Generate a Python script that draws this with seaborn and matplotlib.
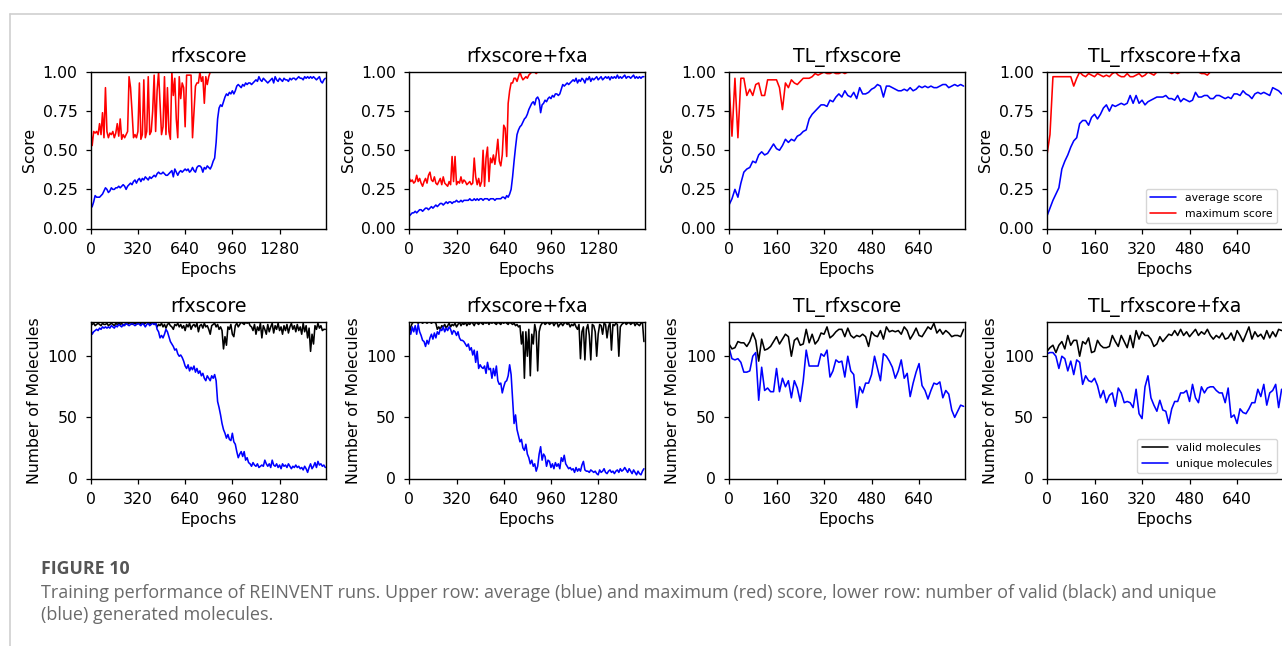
import numpy as np
import matplotlib
matplotlib.use("Agg")
import matplotlib.pyplot as plt
from matplotlib.lines import Line2D
import seaborn as sns

# run names (column titles)
runs = ["rfxscore", "rfxscore+fxa", "TL_rfxscore", "TL_rfxscore+fxa"]

# epochs sampled every 10 steps
epochs_long = np.arange(0, 1600, 10)
epochs_short = np.arange(0, 800, 10)

# ---- upper row: average / maximum score ----
rfx_avg = [0.13, 0.14, 0.17, 0.21, 0.20, 0.20, 0.20, 0.21, 0.22, 0.24,
           0.26, 0.25, 0.23, 0.24, 0.26, 0.25, 0.25, 0.26, 0.26, 0.27,
           0.26, 0.27, 0.28, 0.27, 0.25, 0.27, 0.28, 0.29, 0.28, 0.30,
           0.31, 0.29, 0.31, 0.32, 0.30, 0.32, 0.31, 0.33, 0.32, 0.31,
           0.33, 0.32, 0.33, 0.34, 0.33, 0.35, 0.36, 0.35, 0.35, 0.36,
           0.35, 0.34, 0.34, 0.35, 0.36, 0.37, 0.33, 0.38, 0.36, 0.34,
           0.36, 0.37, 0.36, 0.37, 0.38, 0.37, 0.38, 0.36, 0.37, 0.39,
           0.37, 0.36, 0.39, 0.40, 0.40, 0.39, 0.36, 0.39, 0.38, 0.40,
           0.39, 0.38, 0.40, 0.43, 0.45, 0.55, 0.70, 0.77, 0.79, 0.78,
           0.81, 0.84, 0.86, 0.85, 0.87, 0.86, 0.88, 0.86, 0.88, 0.91,
           0.92, 0.91, 0.90, 0.92, 0.91, 0.93, 0.92, 0.93, 0.93, 0.92,
           0.93, 0.94, 0.95, 0.94, 0.97, 0.95, 0.94, 0.96, 0.95, 0.94,
           0.93, 0.94, 0.95, 0.96, 0.93, 0.97, 0.95, 0.94, 0.96, 0.95,
           0.94, 0.96, 0.95, 0.95, 0.94, 0.96, 0.95, 0.96, 0.96, 0.95,
           0.96, 0.97, 0.96, 0.96, 0.95, 0.97, 0.96, 0.97, 0.96, 0.97,
           0.96, 0.97, 0.96, 0.95, 0.96, 0.97, 0.94, 0.93, 0.95, 0.96]
rfx_max = [0.63, 0.53, 0.62, 0.61, 0.62, 0.60, 0.67, 0.60, 0.74, 0.58,
           0.90, 0.62, 0.58, 0.61, 0.60, 0.62, 0.58, 0.61, 0.67, 0.59,
           0.70, 0.57, 0.60, 0.58, 0.60, 0.62, 0.97, 0.90, 0.75, 0.58,
           0.60, 0.58, 0.62, 0.93, 0.57, 0.60, 0.95, 0.58, 0.62, 0.97,
           0.60, 0.62, 0.75, 0.98, 0.62, 0.88, 1.00, 0.80, 0.60, 0.65,
           0.97, 0.60, 0.90, 0.62, 0.57, 1.00, 0.85, 0.96, 0.70, 0.58,
           0.97, 0.83, 0.93, 0.90, 0.65, 0.98, 0.98, 0.98, 0.98, 0.58,
           0.75, 0.91, 0.93, 0.93, 1.00, 0.94, 0.97, 0.80, 0.97, 0.92,
           0.97, 1.00, 1.00, 1.00, 1.00, 1.00, 1.00, 1.00, 1.00, 1.00,
           1.00, 1.00, 1.00, 1.00, 1.00, 1.00, 1.00, 1.00, 1.00, 1.00,
           1.00, 1.00, 1.00, 1.00, 1.00, 1.00, 1.00, 1.00, 1.00, 1.00,
           1.00, 1.00, 1.00, 1.00, 1.00, 1.00, 1.00, 1.00, 1.00, 1.00,
           1.00, 1.00, 1.00, 1.00, 1.00, 1.00, 1.00, 1.00, 1.00, 1.00,
           1.00, 1.00, 1.00, 1.00, 1.00, 1.00, 1.00, 1.00, 1.00, 1.00,
           1.00, 1.00, 1.00, 1.00, 1.00, 1.00, 1.00, 1.00, 1.00, 1.00,
           1.00, 1.00, 1.00, 1.00, 1.00, 1.00, 1.00, 1.00, 1.00, 1.00]

fxa_avg = [0.08, 0.09, 0.10, 0.10, 0.11, 0.10, 0.11, 0.12, 0.12, 0.11,
           0.12, 0.13, 0.13, 0.12, 0.13, 0.14, 0.13, 0.14, 0.15, 0.14,
           0.15, 0.16, 0.16, 0.15, 0.16, 0.17, 0.16, 0.17, 0.17, 0.16,
           0.17, 0.17, 0.18, 0.17, 0.17, 0.18, 0.17, 0.18, 0.18, 0.18,
           0.18, 0.19, 0.18, 0.18, 0.19, 0.18, 0.19, 0.18, 0.19, 0.19,
           0.18, 0.19, 0.19, 0.19, 0.18, 0.19, 0.19, 0.19, 0.18, 0.19,
           0.19, 0.19, 0.19, 0.20, 0.20, 0.19, 0.21, 0.20, 0.22, 0.25,
           0.33, 0.43, 0.52, 0.60, 0.63, 0.65, 0.66, 0.68, 0.70, 0.71,
           0.73, 0.76, 0.78, 0.80, 0.81, 0.79, 0.83, 0.84, 0.82, 0.74,
           0.79, 0.80, 0.82, 0.81, 0.83, 0.84, 0.83, 0.85, 0.84, 0.86,
           0.86, 0.85, 0.86, 0.89, 0.92, 0.91, 0.92, 0.93, 0.92, 0.93,
           0.94, 0.95, 0.94, 0.96, 0.93, 0.95, 0.94, 0.96, 0.95, 0.93,
           0.96, 0.95, 0.97, 0.94, 0.96, 0.95, 0.96, 0.97, 0.95, 0.96,
           0.97, 0.95, 0.96, 0.97, 0.96, 0.97, 0.95, 0.97, 0.96, 0.97,
           0.96, 0.98, 0.96, 0.97, 0.96, 0.97, 0.98, 0.96, 0.97, 0.97,
           0.96, 0.97, 0.98, 0.96, 0.97, 0.96, 0.97, 0.96, 0.97, 0.97]
fxa_max = [0.32, 0.30, 0.31, 0.29, 0.30, 0.34, 0.30, 0.32, 0.29, 0.27,
           0.30, 0.32, 0.29, 0.34, 0.36, 0.31, 0.30, 0.33, 0.29, 0.28,
           0.30, 0.32, 0.28, 0.33, 0.29, 0.28, 0.27, 0.30, 0.28, 0.46,
           0.30, 0.46, 0.28, 0.30, 0.29, 0.33, 0.29, 0.31, 0.30, 0.28,
           0.29, 0.30, 0.28, 0.29, 0.45, 0.33, 0.28, 0.32, 0.27, 0.30,
           0.50, 0.27, 0.45, 0.52, 0.30, 0.45, 0.42, 0.47, 0.41, 0.48,
           0.57, 0.43, 0.40, 0.47, 0.66, 0.64, 0.46, 0.80, 0.88, 0.93,
           0.93, 0.96, 0.96, 0.94, 0.97, 1.00, 0.97, 0.95, 0.96, 0.97,
           0.96, 0.98, 0.99, 1.00, 1.00, 1.00, 0.99, 1.00, 1.00, 1.00,
           1.00, 1.00, 1.00, 1.00, 1.00, 1.00, 1.00, 1.00, 1.00, 1.00,
           1.00, 1.00, 1.00, 1.00, 1.00, 1.00, 1.00, 1.00, 1.00, 1.00,
           1.00, 1.00, 1.00, 1.00, 1.00, 1.00, 1.00, 1.00, 1.00, 1.00,
           1.00, 1.00, 1.00, 1.00, 1.00, 1.00, 1.00, 1.00, 1.00, 1.00,
           1.00, 1.00, 1.00, 1.00, 1.00, 1.00, 1.00, 1.00, 1.00, 1.00,
           1.00, 1.00, 1.00, 1.00, 1.00, 1.00, 1.00, 1.00, 1.00, 1.00,
           1.00, 1.00, 1.00, 1.00, 1.00, 1.00, 1.00, 1.00, 1.00, 1.00]

tl_avg = [0.15, 0.19, 0.25, 0.20, 0.29, 0.36, 0.38, 0.39, 0.43, 0.42,
          0.47, 0.49, 0.47, 0.48, 0.51, 0.54, 0.51, 0.50, 0.53, 0.57,
          0.55, 0.57, 0.56, 0.59, 0.60, 0.62, 0.63, 0.70, 0.73, 0.75,
          0.77, 0.79, 0.79, 0.78, 0.82, 0.81, 0.84, 0.86, 0.84, 0.88,
          0.85, 0.84, 0.87, 0.83, 0.90, 0.86, 0.86, 0.87, 0.89, 0.90,
          0.92, 0.91, 0.84, 0.91, 0.91, 0.90, 0.89, 0.88, 0.88, 0.89,
          0.88, 0.90, 0.88, 0.89, 0.91, 0.90, 0.91, 0.90, 0.91, 0.90,
          0.90, 0.91, 0.92, 0.92, 0.90, 0.91, 0.92, 0.91, 0.92, 0.91]
tl_max = [0.93, 0.59, 0.96, 0.58, 0.96, 0.96, 0.85, 0.89, 0.85, 0.92,
          0.93, 0.85, 0.85, 0.95, 0.95, 0.95, 0.95, 0.90, 0.76, 0.93,
          0.90, 0.95, 0.93, 0.92, 0.94, 0.96, 0.96, 0.96, 0.97, 0.99,
          0.98, 0.99, 1.00, 0.99, 0.99, 1.00, 0.99, 0.99, 1.00, 0.99,
          1.00, 1.00, 1.00, 1.00, 1.00, 1.00, 1.00, 1.00, 1.00, 1.00,
          1.00, 1.00, 1.00, 1.00, 1.00, 1.00, 1.00, 1.00, 1.00, 1.00,
          1.00, 1.00, 1.00, 1.00, 1.00, 1.00, 1.00, 1.00, 1.00, 1.00,
          1.00, 1.00, 1.00, 1.00, 1.00, 1.00, 1.00, 1.00, 1.00, 1.00]

tlfxa_avg = [0.08, 0.13, 0.18, 0.22, 0.26, 0.38, 0.43, 0.47, 0.52, 0.56,
             0.58, 0.67, 0.69, 0.69, 0.66, 0.71, 0.73, 0.70, 0.73, 0.77,
             0.79, 0.75, 0.79, 0.78, 0.79, 0.80, 0.79, 0.80, 0.85, 0.80,
             0.85, 0.80, 0.82, 0.79, 0.81, 0.82, 0.83, 0.84, 0.84, 0.84,
             0.85, 0.83, 0.83, 0.82, 0.85, 0.81, 0.83, 0.82, 0.81, 0.82,
             0.87, 0.84, 0.84, 0.85, 0.85, 0.83, 0.83, 0.85, 0.85, 0.84,
             0.83, 0.84, 0.83, 0.86, 0.86, 0.85, 0.88, 0.86, 0.85, 0.83,
             0.86, 0.87, 0.86, 0.87, 0.86, 0.85, 0.90, 0.89, 0.88, 0.86]
tlfxa_max = [0.47, 0.60, 0.97, 0.97, 0.97, 0.97, 0.97, 0.97, 0.97, 0.91,
             0.96, 1.00, 0.98, 0.97, 0.99, 0.98, 0.97, 0.99, 0.98, 0.97,
             0.98, 0.97, 0.99, 1.00, 0.98, 0.97, 0.97, 0.99, 0.97, 0.97,
             0.98, 0.99, 0.97, 0.98, 1.00, 0.99, 0.98, 1.00, 1.00, 1.00,
             1.00, 1.00, 0.99, 1.00, 0.99, 1.00, 1.00, 1.00, 1.00, 1.00,
             1.00, 1.00, 0.99, 0.99, 0.98, 1.00, 1.00, 1.00, 1.00, 1.00,
             1.00, 1.00, 1.00, 1.00, 1.00, 1.00, 1.00, 1.00, 1.00, 1.00,
             1.00, 1.00, 1.00, 1.00, 1.00, 1.00, 1.00, 1.00, 1.00, 1.00]

# ---- lower row: valid / unique molecules (batch of 128) ----
rfx_valid = [125, 126, 127, 125, 126, 127, 126, 125, 127, 126,
             126, 127, 125, 126, 127, 126, 125, 127, 126, 127,
             126, 127, 125, 126, 127, 126, 127, 128, 126, 127,
             127, 126, 127, 128, 126, 127, 126, 127, 128, 127,
             126, 127, 128, 126, 127, 124, 126, 125, 127, 124,
             126, 123, 126, 127, 125, 124, 122, 126, 125, 127,
             124, 126, 123, 125, 121, 126, 124, 127, 122, 125,
             126, 124, 127, 120, 125, 126, 123, 127, 124, 125,
             122, 118, 125, 126, 127, 124, 126, 122, 124, 121,
             106, 116, 109, 124, 122, 126, 118, 116, 125, 127,
             124, 126, 128, 127, 126, 128, 127, 128, 125, 124,
             121, 126, 118, 124, 121, 127, 115, 125, 122, 118,
             126, 120, 124, 127, 119, 125, 122, 127, 121, 124,
             118, 125, 121, 126, 119, 124, 127, 122, 125, 120,
             126, 121, 124, 118, 127, 120, 125, 115, 123, 104,
             118, 110, 125, 122, 127, 123, 125, 121, 122, 122]
rfx_unique = [122, 118, 120, 121, 122, 121, 123, 122, 124, 123,
              124, 123, 124, 123, 125, 124, 123, 125, 124, 126,
              125, 124, 126, 125, 127, 126, 125, 126, 127, 126,
              125, 126, 127, 126, 125, 127, 126, 124, 126, 127,
              125, 126, 127, 126, 128, 122, 120, 115, 117, 115,
              118, 122, 120, 116, 112, 110, 108, 105, 106, 102,
              100, 101, 99, 96, 92, 90, 93, 88, 91, 89,
              92, 87, 90, 86, 88, 84, 86, 82, 80, 84,
              82, 80, 84, 82, 85, 80, 63, 58, 52, 45,
              40, 37, 33, 36, 32, 31, 37, 30, 28, 22,
              17, 20, 22, 18, 22, 15, 17, 13, 12, 10,
              13, 11, 10, 12, 9, 10, 11, 10, 15, 12,
              10, 12, 9, 15, 11, 10, 12, 9, 11, 8,
              12, 10, 11, 9, 12, 10, 8, 10, 9, 11,
              9, 10, 8, 9, 7, 10, 8, 5, 9, 12,
              8, 10, 13, 9, 14, 11, 12, 10, 11, 9]

fxa_valid = [118, 124, 127, 128, 128, 128, 127, 128, 128, 127,
             128, 128, 127, 128, 128, 127, 128, 128, 127, 122,
             124, 122, 125, 124, 126, 123, 125, 127, 124, 126,
             125, 127, 124, 126, 128, 125, 127, 126, 128, 125,
             127, 126, 128, 127, 125, 128, 127, 126, 128, 127,
             126, 128, 127, 128, 126, 128, 127, 128, 127, 126,
             128, 127, 126, 128, 127, 128, 127, 126, 128, 127,
             126, 127, 125, 126, 124, 125, 110, 120, 82, 120,
             100, 122, 84, 118, 110, 126, 120, 88, 120, 125,
             127, 128, 126, 127, 128, 126, 127, 128, 125, 127,
             128, 124, 126, 127, 125, 127, 128, 126, 127, 124,
             126, 125, 127, 124, 122, 126, 98, 120, 124, 97,
             122, 126, 117, 97, 126, 125, 120, 100, 118, 126,
             125, 118, 127, 126, 115, 124, 128, 105, 126, 125,
             127, 126, 100, 124, 126, 127, 128, 126, 127, 128,
             126, 127, 128, 125, 127, 126, 125, 127, 128, 112]
fxa_unique = [120, 118, 124, 120, 125, 118, 126, 120, 117, 113,
              112, 108, 113, 110, 115, 118, 114, 119, 115, 120,
              118, 122, 121, 124, 120, 123, 121, 124, 122, 118,
              121, 120, 117, 120, 115, 113, 113, 112, 110, 108,
              110, 105, 107, 101, 105, 95, 104, 90, 93, 91,
              90, 92, 86, 95, 89, 90, 82, 90, 84, 92,
              80, 77, 78, 70, 75, 79, 80, 84, 93, 85,
              65, 45, 52, 40, 35, 30, 32, 25, 23, 28,
              20, 17, 12, 15, 10, 12, 6, 10, 20, 26,
              15, 20, 18, 10, 15, 14, 9, 12, 8, 13,
              10, 12, 8, 17, 14, 19, 12, 10, 8, 9,
              7, 8, 5, 9, 6, 8, 6, 11, 14, 7,
              6, 6, 5, 7, 6, 5, 6, 4, 3, 7,
              5, 6, 8, 5, 4, 6, 7, 5, 6, 4,
              6, 7, 5, 8, 6, 7, 9, 7, 5, 8,
              6, 4, 7, 5, 3, 6, 4, 3, 6, 8]

tl_valid = [110, 106, 107, 112, 111, 111, 108, 112, 119, 113,
            96, 114, 105, 106, 108, 112, 116, 110, 114, 118,
            116, 100, 113, 115, 109, 110, 122, 111, 118, 110,
            113, 119, 118, 124, 115, 117, 120, 122, 122, 116,
            123, 117, 115, 117, 116, 118, 116, 108, 120, 117,
            116, 121, 114, 124, 120, 121, 120, 121, 118, 124,
            121, 114, 118, 123, 117, 116, 120, 124, 122, 127,
            119, 122, 118, 121, 119, 116, 117, 117, 116, 122]
tl_unique = [107, 98, 97, 98, 95, 87, 87, 88, 100, 103,
             64, 91, 72, 74, 71, 71, 90, 71, 82, 75,
             80, 66, 80, 74, 63, 80, 105, 92, 92, 92,
             92, 102, 100, 105, 83, 88, 97, 95, 96, 83,
             100, 88, 85, 58, 75, 70, 78, 78, 85, 100,
             90, 80, 102, 100, 96, 91, 82, 88, 97, 82,
             86, 67, 78, 87, 94, 76, 72, 65, 72, 78,
             77, 79, 66, 72, 69, 56, 50, 55, 60, 59]

tlfxa_valid = [104, 107, 109, 103, 109, 112, 106, 117, 109, 113,
               113, 100, 112, 110, 115, 103, 104, 113, 109, 107,
               107, 108, 117, 112, 108, 117, 112, 107, 117, 107,
               121, 114, 120, 117, 117, 114, 108, 110, 116, 112,
               115, 118, 117, 121, 117, 122, 117, 120, 116, 119,
               122, 117, 120, 118, 122, 117, 114, 117, 115, 119,
               114, 115, 119, 113, 121, 117, 112, 118, 124, 114,
               120, 116, 118, 114, 121, 115, 120, 116, 122, 121]
tlfxa_unique = [102, 103, 103, 100, 90, 100, 98, 88, 96, 85,
                97, 95, 77, 84, 80, 79, 82, 76, 66, 72,
                62, 68, 70, 59, 74, 70, 62, 63, 62, 58,
                73, 53, 49, 75, 84, 66, 60, 55, 64, 56,
                55, 45, 57, 63, 63, 70, 70, 72, 63, 77,
                66, 62, 75, 70, 74, 75, 75, 72, 70, 70,
                62, 74, 50, 52, 45, 57, 54, 53, 57, 62,
                62, 73, 67, 77, 60, 70, 72, 77, 58, 73]

score_avg = [rfx_avg, fxa_avg, tl_avg, tlfxa_avg]
score_max = [rfx_max, fxa_max, tl_max, tlfxa_max]
n_valid = [rfx_valid, fxa_valid, tl_valid, tlfxa_valid]
n_unique = [rfx_unique, fxa_unique, tl_unique, tlfxa_unique]

sns.set_style("ticks")
plt.rcParams.update({
    "font.family": ["DejaVu Sans"],
    "font.size": 11.3,
    "axes.titlesize": 13.6,
    "axes.titlepad": 7.5,
    "axes.labelsize": 11.3,
    "xtick.labelsize": 11.3,
    "ytick.labelsize": 11.3,
    "axes.edgecolor": "black",
    "axes.linewidth": 1.0,
    "xtick.color": "black",
    "ytick.color": "black",
    "text.color": "black",
    "axes.labelcolor": "black",
    "xtick.major.size": 3.5,
    "ytick.major.size": 3.5,
    "xtick.major.width": 0.9,
    "ytick.major.width": 0.9,
    "xtick.major.pad": 6.0,
    "ytick.major.pad": 6.0,
})

W, H = 1282, 646
fig = plt.figure(figsize=(W / 100, H / 100), dpi=100)

lefts = [90.7, 409.3, 729.0, 1047.0]
ax_w = 235.5
row_tops = [72.0, 322.0]
ax_h = 156.5
lw = 1.15


def make_ax(col, row):
    rect = [lefts[col] / W, 1 - (row_tops[row] + ax_h) / H, ax_w / W, ax_h / H]
    return fig.add_axes(rect)


for i, name in enumerate(runs):
    long_run = i < 2
    ep = epochs_long if long_run else epochs_short
    xmax = 1596 if long_run else 793
    xt = [0, 320, 640, 960, 1280] if long_run else [0, 160, 320, 480, 640]

    # score panel
    ax = make_ax(i, 0)
    sns.lineplot(x=ep, y=score_avg[i], color="blue", lw=lw, ax=ax,
                 label="average score", legend=False, errorbar=None)
    sns.lineplot(x=ep, y=score_max[i], color="red", lw=lw, ax=ax,
                 label="maximum score", legend=False, errorbar=None)
    ax.set_xlim(0, xmax)
    ax.set_ylim(0, 1)
    ax.set_xticks(xt)
    ax.set_yticks([0, 0.25, 0.5, 0.75, 1.0])
    ax.set_title(name)
    ax.set_xlabel("Epochs")
    ax.set_ylabel("Score")
    if i == 3:
        ax.legend(loc="lower right", fontsize=7.85, handlelength=2.4,
                  edgecolor="0.8")

    # molecules panel
    ax = make_ax(i, 1)
    sns.lineplot(x=ep, y=n_valid[i], color="black", lw=lw, ax=ax,
                 label="valid molecules", legend=False, errorbar=None)
    sns.lineplot(x=ep, y=n_unique[i], color="blue", lw=lw, ax=ax,
                 label="unique molecules", legend=False, errorbar=None)
    ax.set_xlim(0, xmax)
    ax.set_ylim(0, 128)
    ax.set_xticks(xt)
    ax.set_yticks([0, 50, 100])
    ax.set_title(name)
    ax.set_xlabel("Epochs")
    ax.set_ylabel("Number of Molecules")
    if i == 3:
        ax.legend(loc="lower right", fontsize=7.85, handlelength=2.4,
                  edgecolor="0.8")

# page card border
fig.add_artist(Line2D([9.5 / W, 1.0], [1 - 14 / H, 1 - 14 / H],
                      transform=fig.transFigure, color="#cfcfcf", lw=1.2))
fig.add_artist(Line2D([9.5 / W, 9.5 / W], [0.0, 1 - 14 / H],
                      transform=fig.transFigure, color="#cfcfcf", lw=1.2))

# caption
cap_font = ["Open Sans", "DejaVu Sans"]
head = fig.text(41 / W, 1 - 574 / H, "FIGURE 10", family=cap_font,
                fontweight="bold", fontsize=10.5, color="#555555", va="baseline")
line1 = fig.text(41 / W, 1 - 598 / H,
                 "Training performance of REINVENT runs. Upper row: average (blue) and maximum (red) "
                 "score, lower row: number of valid (black) and unique",
                 family=cap_font, fontsize=10.5, color="#6a6a6a", va="baseline")
line2 = fig.text(41 / W, 1 - 620 / H, "(blue) generated molecules.",
                 family=cap_font, fontsize=10.5, color="#6a6a6a", va="baseline")

# fit caption widths to the page column
fig.canvas.draw()
r = fig.canvas.get_renderer()
scale = 1179 / line1.get_window_extent(r).width
line1.set_fontsize(10.5 * scale)
line2.set_fontsize(10.5 * scale)
head.set_fontsize(10.5 * 89 / head.get_window_extent(r).width)

fig.savefig("out.png", dpi=100)
